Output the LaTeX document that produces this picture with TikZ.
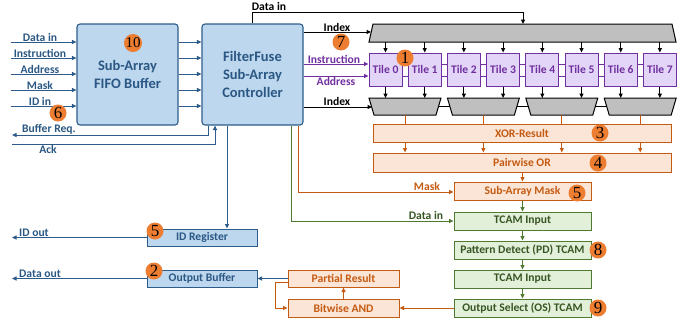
\documentclass[tikz,border=0pt]{standalone}
\usepackage{fontspec}
\setmainfont{Carlito}
\newfontfamily\badgefont{Liberation Serif}
\usetikzlibrary{arrows.meta}
\definecolor{bline}{HTML}{2E5C8A}
\definecolor{bfill}{HTML}{BDD7EE}
\definecolor{btext}{HTML}{2A5783}
\definecolor{oline}{HTML}{C55A11}
\definecolor{ofill}{HTML}{FBE5D6}
\definecolor{gline}{HTML}{4E7A32}
\definecolor{gfill}{HTML}{E2F0D9}
\definecolor{gtext}{HTML}{375623}
\definecolor{pline}{HTML}{7030A0}
\definecolor{pfill}{HTML}{E2D5F7}
\definecolor{decgray}{HTML}{BFBFBF}
\definecolor{badgeor}{HTML}{ED7D31}
\tikzset{
  lbl/.style={font=\fontsize{11.6}{13}\selectfont\bfseries, inner sep=0.5pt},
  arr/.style={-{Triangle[length=4.5pt,width=4pt]}},
  wire/.style={line width=1pt},
  bigbox/.style={draw=bline, fill=bfill, line width=1.1pt, rounded corners=3pt, minimum width=101pt, minimum height=101pt, align=center, text=btext, font=\fontsize{14.5}{18}\selectfont\bfseries, inner sep=0pt},
  sbox/.style={line width=1pt, minimum height=18pt, inner sep=0pt, font=\fontsize{11.6}{13}\selectfont\bfseries},
  bluesm/.style={sbox, draw=bline, fill=bfill, text=btext, minimum width=110pt, minimum height=17pt},
  orbox/.style={sbox, draw=oline, fill=ofill, text=oline},
  grbox/.style={sbox, draw=gline, fill=gfill, text=gtext, minimum width=137pt},
  tilebox/.style={draw=pline, fill=pfill, text=pline, line width=1pt, minimum width=33pt, minimum height=33pt, inner sep=0pt, font=\fontsize{11.6}{13}\selectfont\bfseries},
  badge/.style={circle, fill=badgeor, inner sep=0pt, minimum size=17pt, font=\badgefont\fontsize{17}{17}\selectfont},
  decoder/.style={draw=black, fill=decgray, line width=1pt},
}
\begin{document}
\begin{tikzpicture}[x=1pt,y=-1pt]
\useasboundingbox (0,0) rectangle (696,324);

% main boxes
\node[bigbox] (fifo) at (127.5,74.5) {\rule{0pt}{6pt}Sub-Array\\FIFO Buffer};
\node[bigbox] (ctrl) at (252.5,74.5) {FilterFuse\\Sub-Array\\Controller};

% inputs
\foreach \y/\t [count=\k] in {42/Data in,58/Instruction,74/Address,90/Mask,106/ID in}{
  \coordinate (in\k) at (11,\y);
  \draw[arr,wire,bline] (in\k) -- (in\k -| fifo.west);
  \node[lbl,text=btext,anchor=south] (inl\k) at (40,\y) {\t};
  \draw[arr,wire,bline] (fifo.east |- in\k) -- (ctrl.west |- in\k);
}

% buffer req / ack
\coordinate (brq) at (208,135);
\coordinate (brqend) at (12,135);
\draw[arr,wire,bline] (ctrl.south -| brq) -- (brq) -- (brqend);
\node[lbl,text=btext,anchor=south] (brql) at (49,135) {Buffer Req.};
\coordinate (ack) at (215,144);
\coordinate (ackst) at (12,144);
\draw[arr,wire,bline] (ackst) -- (ack) -- (ctrl.south -| ack);
\node[lbl,text=btext,anchor=north] (ackl) at (48,145) {Ack};

% top decoder
\draw[decoder] (373,24) -- (672,24) -- (676,42) -- (369,42) -- cycle;
\coordinate (dectop) at (523,24);
\coordinate (decbot) at (523,42);
\coordinate (decleft) at (371,32);

% data in top
\coordinate (dina) at (252,12);
\coordinate (dinb) at (523,12);
\draw[arr,wire,black] (ctrl.north -| dina) -- (dina) -- (dinb) -- (dectop);
\node[lbl,anchor=south] (dinl) at (269,11) {Data in};

% index top
\draw[arr,wire,black] (ctrl.east |- decleft) -- (decleft);
\node[lbl,anchor=south] (idx1) at (337,32) {Index};

% tiles
\draw[pline,line width=1pt] (380,64) -- (670,64) (380,76) -- (670,76);
\foreach \i in {0,...,7}{
  \node[tilebox] (t\i) at ({385.5+39.2*\i},69.5) {Tile \i};
  \draw[arr,wire,black] (t\i |- decbot) -- (t\i.north);
}

% purple inputs
\coordinate (pi) at (0,64);
\coordinate (pa) at (0,76);
\draw[arr,wire,pline] (ctrl.east |- pi) -- (t0.west |- pi);
\draw[arr,wire,pline] (ctrl.east |- pa) -- (t0.west |- pa);
\node[lbl,text=pline,anchor=south] (instl) at (334,64) {Instruction};
\node[lbl,text=pline,anchor=north] (addrl) at (336,77) {Address};

% bottom decoders
\draw[wire,black] (380,106) -- (670,106);
\foreach \j in {0,...,3}{
  \pgfmathsetmacro{\xo}{369+78.4*\j}
  \draw[decoder] (\xo,98) -- ({\xo+72},98) -- ({\xo+67},115) -- ({\xo+5},115) -- cycle;
  \coordinate (bd\j) at ({\xo+36},115);
}
\foreach \i in {0,...,7}{
  \draw[arr,wire,black] (t\i.south) -- (t\i |- 0,98);
}
\coordinate (decleft2) at (372,107);
\draw[arr,wire,black] (ctrl.east |- decleft2) -- (decleft2);
\node[lbl,anchor=south] (idx2) at (337,106) {Index};

% orange chain
\node[orbox, minimum width=298pt] (xor) at (522,133) {XOR-Result};
\node[orbox, minimum width=298pt, minimum height=19pt] (por) at (522,162.5) {Pairwise OR};
\foreach \j in {0,...,3}{
  \draw[wire,oline] (bd\j) -- (bd\j |- xor.north);
  \draw[arr,wire,oline] (bd\j |- xor.south) -- (bd\j |- por.north);
}
\node[orbox, minimum width=137pt] (mask) at (522.5,191) {Sub-Array Mask};
\draw[arr,wire,oline] (por.south -| mask) -- (mask.north);

% green chain
\node[grbox] (tin1) at (522.5,221) {TCAM Input};
\node[grbox] (pd) at (522.5,250) {Pattern Detect (PD) TCAM};
\node[grbox] (tin2) at (522.5,279) {TCAM Input};
\node[grbox] (os) at (522.5,308) {Output Select (OS) TCAM};
\draw[arr,wire,gline] (mask.south) -- (tin1.north);
\draw[arr,wire,gline] (tin1.south) -- (pd.north);
\draw[arr,wire,gline] (pd.south) -- (tin2.north);
\draw[arr,wire,gline] (tin2.south) -- (os.north);

% controller to mask / tcam
\coordinate (om) at (298,192);
\draw[arr,wire,oline] (ctrl.south -| om) -- (om) -- (mask.west |- om);
\node[lbl,text=oline,anchor=south] (maskl) at (427,191) {Mask};
\coordinate (gm) at (291,221);
\draw[arr,wire,gline] (ctrl.south -| gm) -- (gm) -- (tin1.west);
\node[lbl,text=gtext,anchor=south] (dingl) at (426,220) {Data in};

% output side
\node[bluesm] (idreg) at (202,237.5) {ID Register};
\node[bluesm] (obuf) at (202,278.5) {Output Buffer};
\node[orbox, minimum width=111pt, minimum height=17pt] (pres) at (343.5,278.5) {Partial Result};
\node[orbox, minimum width=111pt] (band) at (343.5,308) {Bitwise AND};
\coordinate (bx) at (227,0);
\draw[arr,wire,bline] (ctrl.south -| bx) -- (idreg.north -| bx);
\coordinate (idout) at (12,237.5);
\draw[arr,wire,bline] (idreg.west) -- (idout);
\node[lbl,text=btext,anchor=south] (idoutl) at (34,237) {ID out};
\coordinate (dout) at (12,278.5);
\draw[arr,wire,bline] (obuf.west) -- (dout);
\node[lbl,text=btext,anchor=south] (doutl) at (40,278) {Data out};
\draw[arr,wire,bline] (pres.west) -- (obuf.east);
\draw[arr,wire,oline] (band.north) -- (pres.south);
\coordinate (fb1) at (275,282);
\coordinate (fb2) at (275,308);
\draw[arr,wire,oline] (pres.west |- fb1) -- (fb1) -- (fb2) -- (band.west);
\draw[arr,wire,oline] (os.west) -- (band.east);

% badges
\node[badge,font=\badgefont\fontsize{15}{15}\selectfont] (b10) at (133,43) {10};
\node[badge] (b6) at (58,113) {6};
\node[badge] (b7) at (341,42) {7};
\node[badge] (b1) at (405,58) {1};
\node[badge] (b3) at (600,133) {3};
\node[badge] (b4) at (598,163) {4};
\node[badge] (b5a) at (577,193) {5};
\node[badge] (b8) at (598,250) {8};
\node[badge] (b9) at (598,308) {9};
\node[badge] (b5b) at (155,231) {5};
\node[badge] (b2) at (154,271) {2};
\end{tikzpicture}
\end{document}
